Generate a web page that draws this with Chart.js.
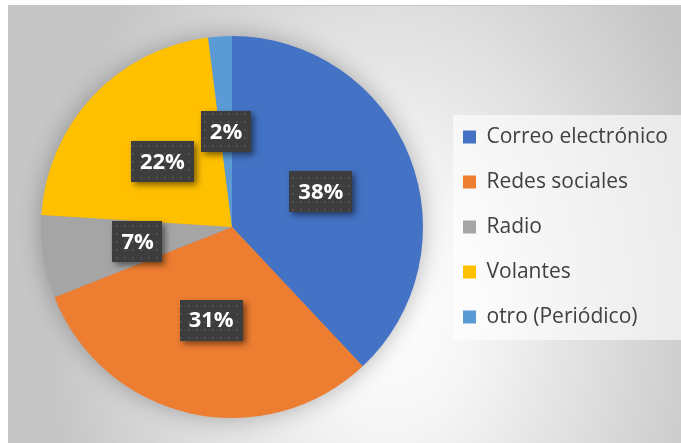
<!DOCTYPE html>
<html lang="es">

<head>
  <meta charset="UTF-8">
  <title>Medio de difusión</title>
  <script src="https://cdn.jsdelivr.net/npm/chart.js@4.4.1/dist/chart.umd.min.js"></script>
</head>

<body>
  <style>
    body {
      margin: 0;
      background: #ffffff;
    }

    #frame {
      position: absolute;
      left: 8px;
      top: 5px;
      width: 672px;
      height: 437px;
      border-top: 1px solid #c6c6c6;
      border-left: 1px solid #c6c6c6;
      background: radial-gradient(ellipse 340px 480px at 380px 300px, #ffffff 0%, #f6f6f6 25%, #c6c6c6 100%);
    }
  </style>

  <div id="frame">
    <canvas id="myChart" width="672" height="437"></canvas>
  </div>

  <script>
    const categories = ['Correo electrónico', 'Redes sociales', 'Radio', 'Volantes', 'otro (Periódico)'];
    const shares = [38, 31, 7, 22, 2];
    const sliceColors = ['#4472C4', '#ED7D31', '#A5A5A5', '#FFC000', '#5B9BD5'];

    const LEGEND_WIDTH = 242;

    // keep the legend column a fixed width so the pie sits where it should
    const legendWidth = {
      id: 'legendWidth',
      beforeUpdate(chart) {
        const legend = chart.legend;
        if (legend && !legend._fixed) {
          const fit = legend.fit;
          legend.fit = function () {
            fit.call(this);
            this.width = LEGEND_WIDTH;
          };
          legend._fixed = true;
        }
      }
    };

    // light panel behind the legend entries
    const legendPanel = {
      id: 'legendPanel',
      beforeDraw(chart) {
        const legend = chart.legend;
        if (!legend || !legend.legendHitBoxes.length) return;
        const boxes = legend.legendHitBoxes;
        const first = boxes[0], last = boxes[boxes.length - 1];
        const ctx = chart.ctx;
        ctx.save();
        ctx.fillStyle = 'rgba(255, 255, 255, 0.6)';
        const top = first.top + first.height / 2 - 22;
        const bottom = last.top + last.height / 2 + 23;
        ctx.fillRect(legend.left + 14, top, chart.width - legend.left - 14, bottom - top);
        ctx.restore();
      }
    };

    // soft shadow under the whole pie
    const pieShadow = {
      id: 'pieShadow',
      beforeDatasetsDraw(chart) {
        const arc = chart.getDatasetMeta(0).data[0];
        if (!arc) return;
        const { x, y, outerRadius } = arc.getProps(['x', 'y', 'outerRadius'], true);
        const ctx = chart.ctx;
        ctx.save();
        ctx.shadowColor = 'rgba(0, 0, 0, 0.3)';
        ctx.shadowBlur = 24;
        ctx.fillStyle = '#9a9a9a';
        ctx.beginPath();
        ctx.arc(x, y, outerRadius - 1, 0, Math.PI * 2);
        ctx.fill();
        ctx.restore();
      }
    };

    // dotted dark tile used behind the percentage labels
    function dotPattern(ctx) {
      const tile = document.createElement('canvas');
      tile.width = 8;
      tile.height = 8;
      const t = tile.getContext('2d');
      t.fillStyle = '#3d3d3d';
      t.fillRect(0, 0, 8, 8);
      t.fillStyle = '#4f4f4f';
      t.fillRect(3, 3, 2, 2);
      return ctx.createPattern(tile, 'repeat');
    }

    // percentage labels in dark boxes, halfway out along each slice
    const pctLabels = {
      id: 'pctLabels',
      afterDatasetsDraw(chart) {
        const ctx = chart.ctx;
        const meta = chart.getDatasetMeta(0);
        const pattern = dotPattern(ctx);
        ctx.save();
        ctx.font = 'bold 22px "Open Sans"';
        ctx.textAlign = 'center';
        ctx.textBaseline = 'middle';
        meta.data.forEach((arc, i) => {
          const { x, y, startAngle, endAngle, outerRadius } =
            arc.getProps(['x', 'y', 'startAngle', 'endAngle', 'outerRadius'], true);
          const mid = (startAngle + endAngle) / 2;
          const px = x + Math.cos(mid) * outerRadius * 0.5;
          const py = y + Math.sin(mid) * outerRadius * 0.5;
          const text = shares[i] + '%';
          const w = ctx.measureText(text).width + 18;
          const h = 41;

          ctx.save();
          ctx.shadowColor = 'rgba(0, 0, 0, 0.5)';
          ctx.shadowBlur = 6;
          ctx.shadowOffsetX = 3;
          ctx.shadowOffsetY = 3;
          ctx.fillStyle = pattern;
          ctx.fillRect(Math.round(px - w / 2), Math.round(py - h / 2), Math.round(w), h);
          ctx.restore();

          ctx.fillStyle = '#ffffff';
          ctx.fillText(text, px, py + 1);
        });
        ctx.restore();
      }
    };

    const data = {
      labels: categories,
      datasets: [{
        data: shares,
        backgroundColor: sliceColors,
        borderWidth: 0
      }]
    };

    const config = {
      type: 'pie',
      data,
      options: {
        responsive: false,
        animation: false,
        layout: {
          padding: { left: 16, top: 30, bottom: 25, right: 0 }
        },
        plugins: {
          tooltip: { enabled: false },
          legend: {
            position: 'right',
            labels: {
              boxWidth: 13,
              boxHeight: 13,
              padding: 24,
              color: '#404040',
              font: { family: '"Open Sans"', size: 21 }
            }
          }
        }
      },
      plugins: [legendWidth, legendPanel, pieShadow, pctLabels]
    };

    const myChart = new Chart(document.getElementById('myChart'), config);
  </script>

</body>

</html>
